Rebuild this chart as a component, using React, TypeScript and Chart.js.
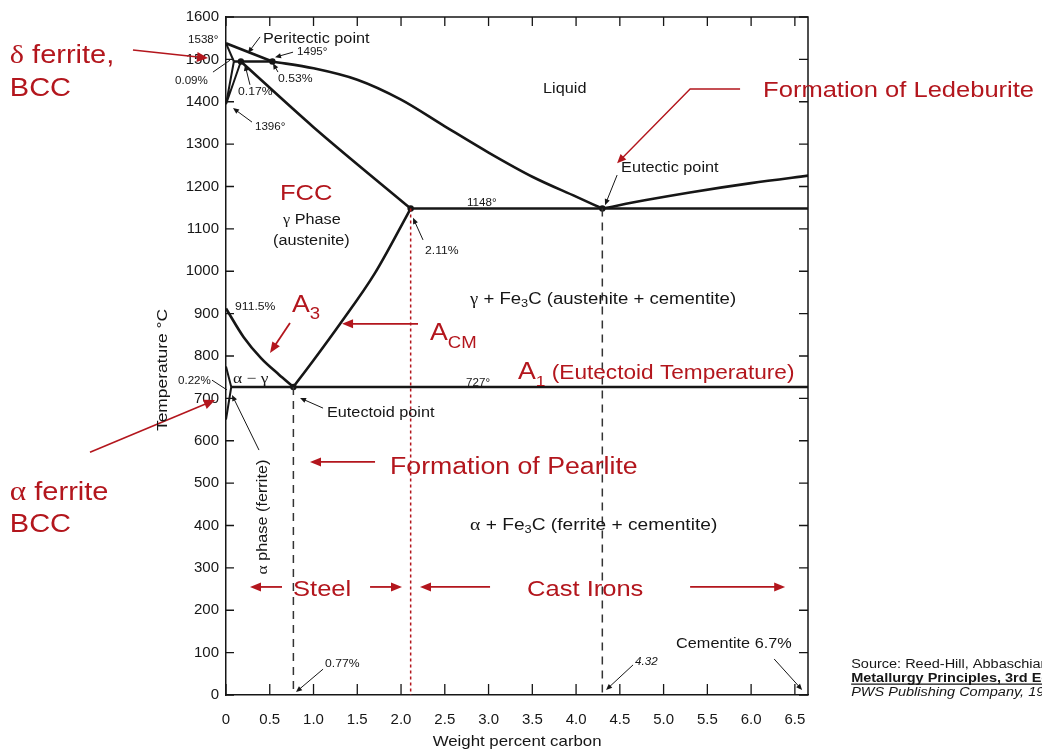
import React, { useEffect, useRef } from 'react';
import { Chart, registerables } from 'chart.js';

Chart.register(...registerables);

// ---------- axis ranges ----------
const CARBON_MIN = 0;
const CARBON_MAX = 6.65;
const TEMP_MIN = 0;
const TEMP_MAX = 1600;
const CARBON_STEP = 0.5;
const TEMP_STEP = 100;

// ---------- phase boundaries (wt% C, °C) ----------
const deltaLiquidusC = [0, 0.53];
const deltaLiquidusT = [1538, 1495];
const deltaSolidusC = [0, 0.09];
const deltaSolidusT = [1538, 1495];
const deltaGammaC = [0.09, 0, 0.17];
const deltaGammaT = [1495, 1394, 1495];
const peritecticC = [0.09, 0.53];
const peritecticT = [1495, 1495];
const liquidusC = [0.53, 1.0, 1.5, 2.0, 2.5, 3.0, 3.5, 4.0, 4.3];
const liquidusT = [1495, 1479, 1452, 1405, 1342, 1280, 1223, 1176, 1148];
const solidusC = [0.17, 1.0, 2.11];
const solidusT = [1495, 1340, 1148];
const cementiteLiqC = [4.3, 4.8, 5.3, 6.0, 6.7];
const cementiteLiqT = [1148, 1168, 1186, 1208, 1227];
const eutecticC = [2.11, 6.7];
const eutecticT = [1148, 1148];
const acmC = [0.77, 1.0, 1.3, 1.7, 2.11];
const acmT = [727, 790, 875, 995, 1148];
const a3C = [0, 0.2, 0.4, 0.6, 0.77];
const a3T = [912, 845, 795, 757, 727];
const alphaC = [0, 0.06, 0];
const alphaT = [775, 727, 650];
const eutectoidC = [0.06, 6.7];
const eutectoidT = [727, 727];
const pearliteGuideC = [0.77, 0.77];
const pearliteGuideT = [727, 0];
const ledeburiteGuideC = [4.3, 4.3];
const ledeburiteGuideT = [1148, 0];
const steelLimitC = [2.11, 2.11];
const steelLimitT = [1148, 0];
const keyPointC = [0.17, 0.53, 2.11, 4.3, 0.77];
const keyPointT = [1495, 1495, 1148, 1148, 727];

// ---------- styles ----------
const INK = '#161616';
const RED = '#b3161d';
const SANS = '"Liberation Sans", Arial, sans-serif';
const SERIF = '"Liberation Serif", "Times New Roman", serif';
const SX = 1.16;

type Seg = { t: string; size: number; dy?: number; weight?: string; style?: string; family?: string };
type Label = { segs: Seg[]; at: [number, number]; color: string; align?: 'left' | 'center'; rot?: number; mid?: boolean; underline?: boolean };

const red = (segs: Seg[], at: [number, number]): Label => ({ segs, at, color: RED });
const blk = (segs: Seg[], at: [number, number], extra: Partial<Label> = {}): Label => ({ segs, at, color: INK, ...extra });

const labels: Label[] = [
  red([{ t: 'δ', size: 26, family: SERIF }, { t: ' ferrite,', size: 25 }], [-2.47, 1491]),
  red([{ t: 'BCC', size: 25 }], [-2.47, 1414]),
  red([{ t: 'α', size: 27, family: SERIF }, { t: ' ferrite', size: 25 }], [-2.47, 460]),
  red([{ t: 'BCC', size: 25 }], [-2.47, 385]),
  red([{ t: 'Formation of Ledeburite', size: 22 }], [6.137, 1411]),
  red([{ t: 'FCC', size: 22 }], [0.617, 1168]),
  red([{ t: 'A', size: 23 }, { t: '3', size: 16, dy: 7 }], [0.754, 904]),
  red([{ t: 'A', size: 23 }, { t: 'CM', size: 16, dy: 8 }], [2.331, 838]),
  red([{ t: 'A', size: 23 }, { t: '1', size: 15, dy: 7 }, { t: ' (Eutectoid Temperature)', size: 19.5 }], [3.337, 746]),
  red([{ t: 'Formation of Pearlite', size: 23 }], [1.874, 521]),
  red([{ t: 'Steel', size: 22 }], [0.766, 234]),
  red([{ t: 'Cast Irons', size: 22 }], [3.44, 234]),

  blk([{ t: '1538°', size: 10 }], [-0.434, 1539]),
  blk([{ t: 'Peritectic point', size: 14 }], [0.423, 1539]),
  blk([{ t: '1495°', size: 10 }], [0.811, 1510]),
  blk([{ t: '0.09%', size: 10 }], [-0.583, 1442]),
  blk([{ t: '0.17%', size: 10.5 }], [0.137, 1416]),
  blk([{ t: '0.53%', size: 10.5 }], [0.594, 1447]),
  blk([{ t: '1396°', size: 10 }], [0.331, 1333]),
  blk([{ t: 'Liquid', size: 14 }], [3.623, 1421]),
  blk([{ t: 'Eutectic point', size: 14 }], [4.514, 1234]),
  blk([{ t: 'γ', size: 14, family: SERIF }, { t: ' Phase', size: 14 }], [0.651, 1111]),
  blk([{ t: '(austenite)', size: 14 }], [0.537, 1062]),
  blk([{ t: '1148°', size: 10 }], [2.754, 1154]),
  blk([{ t: '2.11%', size: 10.5 }], [2.274, 1041]),
  blk([{ t: 'γ', size: 16, family: SERIF }, { t: ' + Fe', size: 16 }, { t: '3', size: 11, dy: 3 }, { t: 'C (austenite + cementite)', size: 16 }], [2.789, 923]),
  blk([{ t: '911.5%', size: 10.5 }], [0.103, 909]),
  blk([{ t: 'α − γ', size: 15, family: SERIF }], [0.08, 736]),
  blk([{ t: '0.22%', size: 10 }], [-0.549, 734]),
  blk([{ t: '727°', size: 10 }], [2.743, 729]),
  blk([{ t: 'Eutectoid point', size: 14 }], [1.154, 656]),
  blk([{ t: 'α', size: 15, family: SERIF }, { t: ' phase (ferrite)', size: 14 }], [0.411, 420], { align: 'center', rot: -Math.PI / 2, mid: true }),
  blk([{ t: 'α', size: 17, family: SERIF }, { t: ' + Fe', size: 16.5 }, { t: '3', size: 11, dy: 3 }, { t: 'C (ferrite + cementite)', size: 16.5 }], [2.789, 389]),
  blk([{ t: 'Cementite 6.7%', size: 14 }], [5.143, 111]),
  blk([{ t: '0.77%', size: 10.5 }], [1.131, 66]),
  blk([{ t: '4.32', size: 10, style: 'italic' }], [4.674, 71]),
  blk([{ t: 'Source: Reed-Hill, Abbaschian, Physical', size: 12.5 }], [7.143, 63.5]),
  blk([{ t: 'Metallurgy Principles, 3rd Edition,', size: 12.5, weight: 'bold' }], [7.143, 30.5], { underline: true }),
  blk([{ t: 'PWS Publishing Company, 1994', size: 12.5, style: 'italic' }], [7.143, -2.5]),
  blk([{ t: 'Weight percent carbon', size: 14.5 }], [3.326, -120], { align: 'center' }),
  blk([{ t: 'Temperature °C', size: 15 }], [-0.731, 767], { align: 'center', rot: -Math.PI / 2, mid: true }),
];

type Arrow = { path: [number, number][]; color: string; lw: number; hl: number; hw: number };
const ra = (path: [number, number][], lw = 1.6, hl = 11, hw = 4.5): Arrow => ({ path, color: RED, lw, hl, hw });
const ba = (path: [number, number][], hl = 6): Arrow => ({ path, color: INK, lw: 1, hl, hw: 2.6 });

const arrows: Arrow[] = [
  ra([[-1.063, 1522], [-0.206, 1503]], 1.6, 11, 5),
  ra([[-1.554, 573], [-0.126, 696]], 1.6, 11, 5),
  ra([[5.874, 1430], [5.303, 1430], [4.469, 1255]], 1.4, 9, 4),
  ra([[0.731, 878], [0.503, 807]], 1.8),
  ra([[2.194, 876], [1.326, 876]], 1.8),
  ra([[1.703, 550], [0.96, 550]], 1.8),
  ra([[0.64, 255], [0.274, 255]], 1.8),
  ra([[1.646, 255], [2.011, 255]], 1.8),
  ra([[3.017, 255], [2.217, 255]], 1.8),
  ra([[5.303, 255], [6.389, 255]], 1.8),

  ba([[0.389, 1553], [0.251, 1515]]),
  ba([[0.766, 1517], [0.56, 1505]]),
  ba([[-0.149, 1470], [0.046, 1498]], 0),
  ba([[0.274, 1440], [0.217, 1487]]),
  ba([[0.594, 1470], [0.537, 1491]]),
  ba([[0.297, 1352], [0.08, 1385]]),
  ba([[4.469, 1227], [4.331, 1156]]),
  ba([[2.251, 1074], [2.137, 1126]]),
  ba([[-0.16, 743], [0.011, 720]], 0),
  ba([[1.109, 677], [0.846, 701]]),
  ba([[0.377, 578], [0.069, 708]]),
  ba([[6.263, 85], [6.583, 12]]),
  ba([[1.109, 61], [0.8, 7]]),
  ba([[4.651, 71], [4.343, 12]]),
];

const pts = (cs: number[], ts: number[]) => cs.map((c, i) => ({ x: c, y: ts[i] }));

function boundary(label: string, cs: number[], ts: number[], extra: any = {}) {
  return {
    label,
    data: pts(cs, ts),
    showLine: true,
    pointRadius: 0,
    borderColor: INK,
    borderWidth: 2.6,
    fill: false,
    ...extra,
  };
}

function fontOf(s: Seg) {
  return `${s.style || 'normal'} ${s.weight || 'normal'} ${s.size}px ${s.family || SANS}`;
}

function drawLabel(ctx: CanvasRenderingContext2D, l: Label, x: number, y: number) {
  ctx.save();
  ctx.translate(x, y);
  if (l.rot) ctx.rotate(l.rot);
  ctx.scale(SX, 1);
  ctx.fillStyle = l.color;
  ctx.textBaseline = 'alphabetic';
  ctx.textAlign = 'left';
  let total = 0;
  let maxSize = 0;
  for (const s of l.segs) {
    ctx.font = fontOf(s);
    total += ctx.measureText(s.t).width;
    maxSize = Math.max(maxSize, s.size);
  }
  let cx = l.align === 'center' ? -total / 2 : 0;
  const base = l.mid ? maxSize * 0.36 : 0;
  for (const s of l.segs) {
    ctx.font = fontOf(s);
    ctx.fillText(s.t, cx, base + (s.dy || 0));
    cx += ctx.measureText(s.t).width;
  }
  if (l.underline) {
    ctx.strokeStyle = l.color;
    ctx.lineWidth = 1.1;
    ctx.beginPath();
    ctx.moveTo(0, 2);
    ctx.lineTo(total, 2);
    ctx.stroke();
  }
  ctx.restore();
}

function drawArrow(ctx: CanvasRenderingContext2D, p: [number, number][], a: Arrow) {
  ctx.save();
  ctx.strokeStyle = a.color;
  ctx.fillStyle = a.color;
  ctx.lineWidth = a.lw;
  const n = p.length;
  const [x1, y1] = p[n - 2];
  const [x2, y2] = p[n - 1];
  const ang = Math.atan2(y2 - y1, x2 - x1);
  const ex = a.hl ? x2 - Math.cos(ang) * a.hl * 0.7 : x2;
  const ey = a.hl ? y2 - Math.sin(ang) * a.hl * 0.7 : y2;
  ctx.beginPath();
  p.forEach(([x, y], i) => {
    if (i === 0) ctx.moveTo(x, y);
    else if (i === n - 1) ctx.lineTo(ex, ey);
    else ctx.lineTo(x, y);
  });
  ctx.stroke();
  if (a.hl) {
    const c = Math.cos(ang), s = Math.sin(ang);
    ctx.beginPath();
    ctx.moveTo(x2, y2);
    ctx.lineTo(x2 - a.hl * c + a.hw * s, y2 - a.hl * s - a.hw * c);
    ctx.lineTo(x2 - a.hl * c - a.hw * s, y2 - a.hl * s + a.hw * c);
    ctx.closePath();
    ctx.fill();
  }
  ctx.restore();
}

const overlay = {
  id: 'overlay',
  afterDraw(chart: any) {
    const { ctx, chartArea: a, scales } = chart;
    const xs = scales.x, ys = scales.y;
    const X = (v: number) => xs.getPixelForValue(v);
    const Y = (v: number) => ys.getPixelForValue(v);
    ctx.save();
    ctx.strokeStyle = INK;
    ctx.lineWidth = 1.5;
    ctx.beginPath();
    ctx.moveTo(a.left, a.top);
    ctx.lineTo(a.right, a.top);
    ctx.lineTo(a.right, a.bottom);
    ctx.stroke();
    ctx.lineWidth = 1.3;
    ctx.beginPath();
    ys.ticks.forEach((t: any) => {
      const py = Y(t.value);
      ctx.moveTo(a.left, py); ctx.lineTo(a.left + 8, py);
      ctx.moveTo(a.right, py); ctx.lineTo(a.right - 9, py);
    });
    xs.ticks.forEach((t: any) => {
      const px = X(t.value);
      ctx.moveTo(px, a.bottom); ctx.lineTo(px, a.bottom - 11);
      ctx.moveTo(px, a.top); ctx.lineTo(px, a.top + 9);
    });
    ctx.stroke();
    ctx.restore();

    arrows.forEach((ar) => drawArrow(ctx, ar.path.map(([c, t]) => [X(c), Y(t)] as [number, number]), ar));
    labels.forEach((l) => drawLabel(ctx, l, X(l.at[0]), Y(l.at[1])));
  },
};

export default function App() {
  const ref = useRef<HTMLCanvasElement>(null);
  useEffect(() => {
    const tickFont = { family: SANS, size: 15 };
    const chart = new Chart(ref.current as HTMLCanvasElement, {
      type: 'scatter',
      data: {
        datasets: [
          boundary('pearlite guide', pearliteGuideC, pearliteGuideT, { borderWidth: 1.5, borderDash: [8, 6], borderColor: '#333' }),
          boundary('ledeburite guide', ledeburiteGuideC, ledeburiteGuideT, { borderWidth: 1.5, borderDash: [8, 6], borderColor: '#333' }),
          boundary('steel limit', steelLimitC, steelLimitT, { borderWidth: 1.5, borderDash: [3, 3], borderColor: RED }),
          boundary('delta liquidus', deltaLiquidusC, deltaLiquidusT),
          boundary('delta solidus', deltaSolidusC, deltaSolidusT, { borderWidth: 2 }),
          boundary('delta gamma', deltaGammaC, deltaGammaT, { borderWidth: 2 }),
          boundary('peritectic', peritecticC, peritecticT),
          boundary('liquidus', liquidusC, liquidusT, { cubicInterpolationMode: 'monotone' }),
          boundary('solidus', solidusC, solidusT, { cubicInterpolationMode: 'monotone' }),
          boundary('cementite liquidus', cementiteLiqC, cementiteLiqT, { cubicInterpolationMode: 'monotone' }),
          boundary('eutectic', eutecticC, eutecticT),
          boundary('Acm', acmC, acmT, { cubicInterpolationMode: 'monotone' }),
          boundary('A3', a3C, a3T, { cubicInterpolationMode: 'monotone' }),
          boundary('alpha', alphaC, alphaT, { borderWidth: 2 }),
          boundary('eutectoid', eutectoidC, eutectoidT),
          {
            label: 'key points',
            data: pts(keyPointC, keyPointT),
            showLine: false,
            pointRadius: 3.2,
            pointBackgroundColor: INK,
            pointBorderWidth: 0,
          },
        ] as any,
      },
      options: {
        animation: false,
        responsive: false,
        events: [],
        layout: { padding: { left: 0, right: 234, top: 17, bottom: 0 } },
        plugins: { legend: { display: false }, tooltip: { enabled: false } },
        scales: {
          x: {
            type: 'linear',
            min: CARBON_MIN,
            max: CARBON_MAX,
            ticks: {
              stepSize: CARBON_STEP,
              includeBounds: false,
              padding: 16,
              color: INK,
              font: tickFont,
              maxRotation: 0,
              autoSkip: false,
              callback: (v: any) => (Number(v) === 0 ? '0' : Number(v).toFixed(1)),
            },
            grid: { display: true, drawOnChartArea: false, drawTicks: false },
            border: { display: true, color: INK, width: 1.5 },
            afterFit: (s: any) => { s.height = 55; },
          },
          y: {
            type: 'linear',
            min: TEMP_MIN,
            max: TEMP_MAX,
            ticks: {
              stepSize: TEMP_STEP,
              padding: 7,
              color: INK,
              font: tickFont,
              autoSkip: false,
              callback: (v: any) => String(Math.round(Number(v))),
            },
            grid: { display: true, drawOnChartArea: false, drawTicks: false },
            border: { display: true, color: INK, width: 1.5 },
            afterFit: (s: any) => { s.width = 226; },
          },
        },
      } as any,
      plugins: [overlay],
    });
    return () => chart.destroy();
  }, []);
  return (
    <div style={{ position: 'fixed', left: 0, top: 0, width: 1042, height: 750, background: '#fff', overflow: 'hidden' }}>
      <canvas ref={ref} width={1042} height={750} style={{ display: 'block' }} />
    </div>
  );
}
